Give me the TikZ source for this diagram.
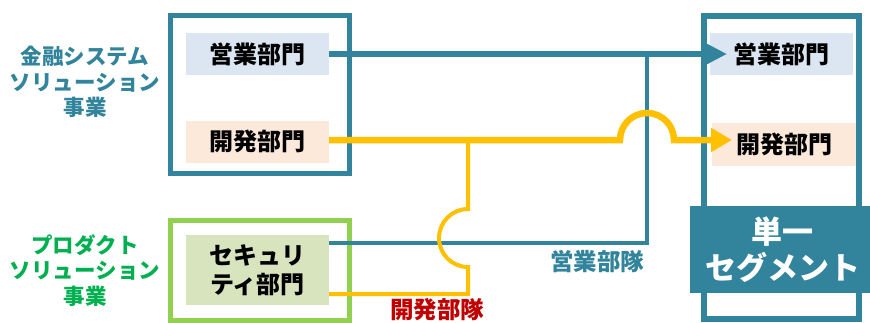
\documentclass[tikz,border=0pt]{standalone}
\usepackage{fontspec}
\setmainfont{Noto Sans CJK JP}
\usetikzlibrary{arrows.meta}
\definecolor{tealc}{HTML}{31849B}
\definecolor{bluef}{HTML}{DCE6F2}
\definecolor{peachf}{HTML}{FDE9D9}
\definecolor{greenf}{HTML}{D7E4BD}
\definecolor{greenl}{HTML}{92D050}
\definecolor{greent}{HTML}{00B050}
\definecolor{yel}{HTML}{FFC000}
\definecolor{dred}{HTML}{C00000}
\begin{document}
\begin{tikzpicture}[x=1pt,y=-1pt,
  frame/.style={draw, line width=5pt, inner sep=0pt, outer sep=0pt},
  dept/.style={minimum width=143pt, minimum height=42pt, inner sep=0pt, align=center,
    font=\fontsize{24}{29}\selectfont\bfseries, text=black},
  side/.style={align=center, font=\fontsize{21.5}{25.5}\selectfont\bfseries},
  teamlbl/.style={font=\fontsize{23.5}{26}\selectfont\bfseries},
  thickline/.style={line width=6.5pt},
  thinline/.style={line width=4pt}]
\useasboundingbox (0,0) rectangle (870,322);
\clip (0,0) rectangle (870,322);

% outer frames
\node[frame, tealc, minimum width=179pt, minimum height=158pt] (fin) at (260,94.5) {};
\node[frame, greenl, minimum width=179pt, minimum height=100pt] (prod) at (260,270) {};
\node[frame, tealc, line width=6pt, minimum width=155.5pt, minimum height=303pt] (seg) at (781.25,167.5) {};

% departments
\node[dept, fill=bluef] (s1) at (257.5,54) {営業部門};
\node[dept, fill=peachf] (d1) at (257.5,141.5) {開発部門};
\node[dept, fill=greenf, minimum height=70pt] (sec) at (257.5,270) {セキュリ\\ティ部門};
\node[dept, fill=bluef] (s2) at (781.5,54) {営業部門};
\node[dept, fill=peachf, minimum width=144pt, minimum height=43pt] (d2) at (784,144.5) {開発部門};

% side labels
\node[side, text=tealc] (l1) at (85,82) {金融システム\\ソリューション\\事業};
\node[side, text=greent] (l2) at (85,270.5) {プロダクト\\ソリューション\\事業};

% coordinates
\coordinate (bt) at (727,54);
\coordinate (bj) at (647,54);
\coordinate (bc) at (647,243);
\coordinate (ya) at (620,140);
\coordinate (yt) at (732,140);
\coordinate (yj) at (468,140);
\coordinate (yb) at (468,209);
\coordinate (yc) at (468,294);

% sales team (teal)
\draw[tealc, thinline] (bj) -- (bc) -- (bc -| sec.east);
\draw[tealc, thickline, -{Triangle[length=22pt,width=21pt]}] (s1.east) -- (bt);

% development team (yellow)
\draw[yel, thinline] (yj) -- (yb) arc[start angle=90, end angle=270, radius=29pt] -- (yc) -- (yc -| sec.east);
\draw[yel, thickline, -{Triangle[length=21pt,width=23pt]}] (d1.east |- ya) -- (ya)
  arc[start angle=180, end angle=0, radius=27pt] -- (yt);

% single segment banner
\node[fill=tealc, minimum width=185pt, minimum height=87pt, inner sep=0pt, align=center,
  text=white, font=\fontsize{31}{36}\selectfont\bfseries] (one) at (782.5,249.5) {単一\\セグメント};

% team labels
\node[teamlbl, text=tealc] (st) at (597,262) {営業部隊};
\node[teamlbl, text=dred] (dt) at (437,310) {開発部隊};
\end{tikzpicture}
\end{document}
